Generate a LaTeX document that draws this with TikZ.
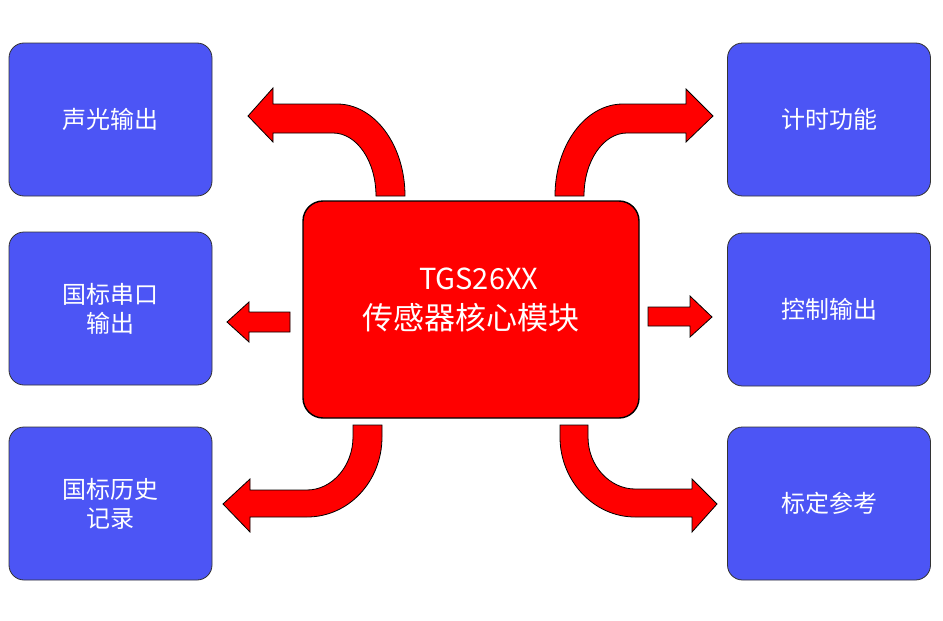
\documentclass[tikz,border=0pt]{standalone}
\usepackage{fontspec}
\setmainfont{Noto Sans CJK SC}
\definecolor{boxblue}{RGB}{76,85,245}
\definecolor{arrred}{RGB}{255,0,0}
\begin{document}
\begin{tikzpicture}[x=1pt,y=-1pt,
  sidebox/.style={draw=black!80,line width=0.8pt,fill=boxblue,rounded corners=15pt,
    minimum width=203pt,minimum height=153pt,inner sep=0pt,text=white,
    font=\fontsize{24}{29}\selectfont,align=center},
  corebox/.style={draw=black,line width=1.4pt,fill=arrred,rounded corners=20pt,
    minimum width=336pt,minimum height=217pt,inner sep=0pt},
  blockarrow/.style={draw=black,line width=0.8pt,fill=arrred,line join=miter}]
\useasboundingbox (0,0) rectangle (943,621);
\fill[white] (0,0) rectangle (943,621);
% side boxes
\node[sidebox] (b1) at (110.5,119.5) {声光输出};
\node[sidebox] (b2) at (110.5,308.5) {国标串口\\输出};
\node[sidebox] (b3) at (110.5,503.5) {国标历史\\记录};
\node[sidebox] (b4) at (829,119.5) {计时功能};
\node[sidebox] (b5) at (829,309.5) {控制输出};
\node[sidebox] (b6) at (829,503.5) {标定参考};
% core
\node[corebox] (core) at (471,309.5) {};
\node[text=white,align=center,font=\fontsize{31}{40}\selectfont] (coretext) at (471,300)
  {\hspace*{0.5em}{\fontsize{29}{40}\selectfont TGS26XX}\\传感器核心模块};
% top-left arrow
\draw[blockarrow] (405,196) .. controls (405,145) and (374.5,104) .. (337,104)
  -- (273,104) -- (273,88) -- (248,116) -- (273,142) -- (273,133) -- (333,133)
  .. controls (356.7,133) and (376,161) .. (376,196) -- cycle;
% top-right arrow
\draw[blockarrow] (555,196) .. controls (555,145) and (585.5,104) .. (623,104)
  -- (686,104) -- (686,89) -- (713,116) -- (686,142) -- (686,133) -- (627,133)
  .. controls (603.3,133) and (584,161) .. (584,196) -- cycle;
% middle arrows
\draw[blockarrow] (290,312) -- (249,312) -- (249,302) -- (227,322) -- (249,342) -- (249,332) -- (290,332) -- cycle;
\draw[blockarrow] (648,307) -- (690,307) -- (690,296) -- (712,317) -- (690,337) -- (690,326) -- (648,326) -- cycle;
% bottom-left arrow
\draw[blockarrow] (382,425) -- (382,437) .. controls (382,481) and (349,517) .. (307,517)
  -- (250,517) -- (250,532) -- (223,504) -- (250,479) -- (250,490) -- (307,490)
  .. controls (332,490) and (353,466) .. (353,437) -- (353,425) -- cycle;
% bottom-right arrow
\draw[blockarrow] (560,425) -- (560,437) .. controls (560,481) and (594,517) .. (635,517)
  -- (692,517) -- (692,532) -- (717,504) -- (692,479) -- (692,489) -- (635,489)
  .. controls (610,489) and (588,466) .. (588,437) -- (588,425) -- cycle;
\end{tikzpicture}
\end{document}
